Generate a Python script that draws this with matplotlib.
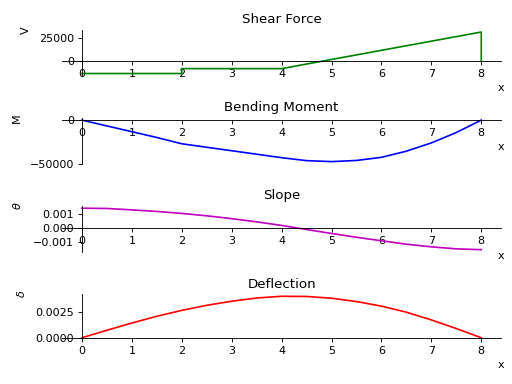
import matplotlib
matplotlib.use('Agg')
import matplotlib.pyplot as plt

# shear force (piecewise)
shear_x = [0, 2, 2, 4, 8, 8]
shear_v = [-13600, -13600, -8300, -8300, 31300, 0]

# sampled curves, step 0.5 from 0 to 8
xs = [0, 0.5, 1, 1.5, 2, 2.5, 3, 3.5, 4, 4.5, 5, 5.5, 6, 6.5, 7, 7.5, 8]
moment = [0, -6700, -13300, -20000, -27200, -31200, -35200, -39200, -43200,
          -46600, -47700, -46400, -42800, -35700, -26200, -14300, 0]
slope = [0.00143, 0.00141, 0.00131, 0.00120, 0.00106, 0.00089, 0.00069, 0.00046,
         0.00021, -0.00008, -0.00036, -0.00063, -0.00088, -0.00112, -0.00131,
         -0.00145, -0.00151]
deflection = [0, 0.00074, 0.00145, 0.00212, 0.00270, 0.00320, 0.00360, 0.00392,
              0.00409, 0.00407, 0.00390, 0.00357, 0.00312, 0.00252, 0.00176,
              0.00091, 0]

plots = [
    (shear_x, shear_v, 'g', 'Shear Force', 'V', -0.071),
    (xs, moment, 'b', 'Bending Moment', 'M', -0.091),
    (xs, slope, 'm', 'Slope', r'$\theta$', -0.089),
    (xs, deflection, 'r', 'Deflection', r'$\delta$', -0.08),
]

fig, axes = plt.subplots(4, 1, figsize=(6.4, 4.8), dpi=80)
fig.subplots_adjust(left=0.121, right=0.979, top=0.922, bottom=0.115, hspace=0.93)

for ax, (x, y, c, title, ylab, ypos) in zip(axes, plots):
    ax.plot(x, y, color=c)
    ax.set_title(title)
    ax.spines['left'].set_position('zero')
    ax.spines['bottom'].set_position('zero')
    ax.spines['right'].set_visible(False)
    ax.spines['top'].set_visible(False)
    ax.xaxis.set_ticks_position('bottom')
    ax.yaxis.set_ticks_position('left')
    ax.set_xlabel('x', x=1.0, ha='center')
    ax.set_ylabel(ylab)
    ax.yaxis.set_label_coords(ypos, 1.0)

fig.savefig('out.png')
